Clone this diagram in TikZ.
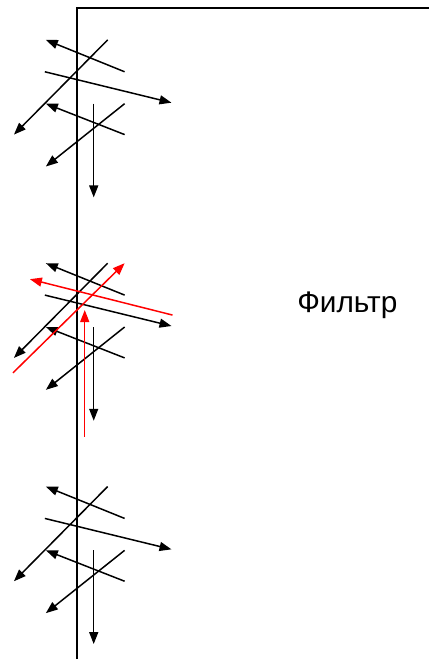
\documentclass[tikz,border=0pt]{standalone}
\usepackage{fontspec}
\setsansfont{Liberation Sans}
\usetikzlibrary{arrows.meta}

\begin{document}
\begin{tikzpicture}[x=1bp,y=-1bp,
    ray/.style={line width=1.5bp,-{Triangle[length=12bp,width=9bp]}},
    back/.style={ray,red}]
  \fill[white] (-1,-1) rectangle (430,661);
  \useasboundingbox (0,0) rectangle (429,660);
  % Filter wall.
  \draw[line width=2bp] (76,660) -- (76,7) -- (429,7);
  \node[font=\sffamily\fontsize{30}{36}\selectfont,anchor=base west,inner sep=0pt]
    (filt) at (297,312) {Фильтр};
  % Three identical bundles of rays, one every 224 units.
  \foreach \dy in {0,224,448} {
    \begin{scope}[yshift=-\dy bp]
      \draw[ray]   (124,71)  -- (45,39);
      \draw[ray]   (107,39)  -- (13,134);
      \draw[ray]   (44,71)   -- (171,102);
      \draw[ray]   (124,134) -- (45,103);
      \draw[ray]   (124,103) -- (45,166);
      \draw[ray]   (93,103)  -- (93,197);
    \end{scope}
  }
  % Reflected rays in the middle bundle.
  \draw[back] (172,315) -- (29,279);
  \draw[back] (12,373)  -- (124,263);
  \draw[back] (84,437)  -- (84,310);
\end{tikzpicture}
\end{document}
